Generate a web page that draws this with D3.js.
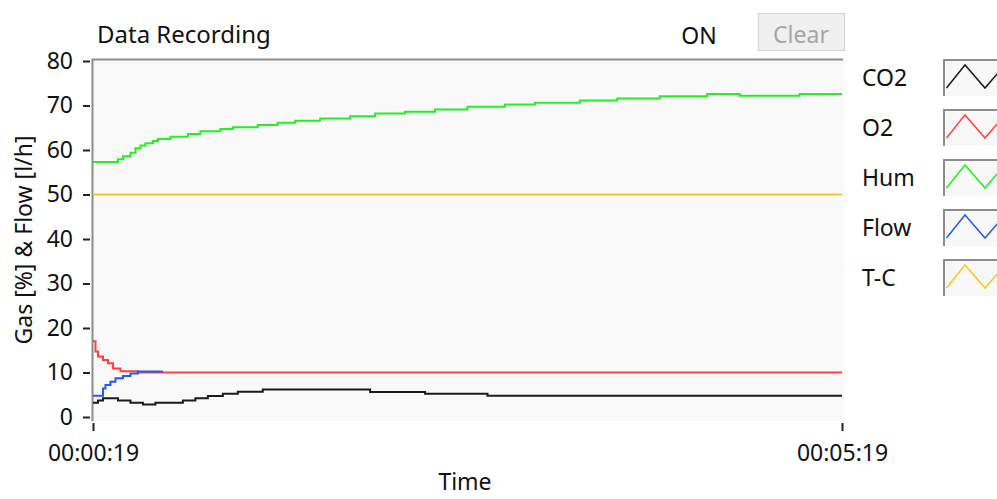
<!DOCTYPE html>
<html lang="en">
<head>
    <meta charset="UTF-8">
    <title>Data Recording</title>
    <script src="https://d3js.org/d3.v7.min.js"></script>
    <style>
        body { margin: 0; background: #fff; }
        text { font-family: "Noto Sans", "Open Sans", sans-serif; fill: #111; }
    </style>
</head>
<body>
    <svg id="chart" width="997" height="499"></svg>
    <script>
        // series (time in seconds, values in % or l/h)
        const seriesNames = ["CO2", "O2", "Hum", "Flow", "T-C"];
        const seriesColors = ["#1a1a1a", "#ff4040", "#22f022", "#2a5ae8", "#ffc61a"];

        const co2Time = [19, 21, 23, 29, 34, 39, 44, 55, 60, 65, 71, 77, 87, 130, 152, 177, 319];
        const co2Vals = [3.2, 3.7, 4.2, 3.7, 3.2, 2.8, 3.2, 3.7, 4.2, 4.7, 5.2, 5.7, 6.2, 5.6, 5.2, 4.8, 4.8];

        const o2Time = [19, 20, 21, 23, 25, 27, 30, 37, 319];
        const o2Vals = [17.0, 14.7, 13.6, 12.8, 12.1, 10.9, 10.3, 10.0, 10.0];

        const humTime = [19, 29, 31, 34, 36, 38, 40, 43, 45, 50, 57, 62, 70, 75, 85, 93, 100, 110, 122, 132,
                         144, 156, 169, 184, 196, 214, 229, 246, 265, 278, 302, 319];
        const humVals = [57.3, 57.9, 58.6, 59.4, 60.4, 61.0, 61.5, 62.0, 62.5, 63.0, 63.6, 64.2, 64.7, 65.1, 65.6, 66.1,
                         66.6, 67.1, 67.6, 68.2, 68.6, 69.1, 69.7, 70.2, 70.6, 71.1, 71.6, 72.1, 72.6, 72.2, 72.6, 72.6];

        const flowTime = [19, 23, 24, 26, 28, 31, 34, 37, 47];
        const flowVals = [4.8, 6.4, 7.2, 7.9, 8.7, 9.2, 9.8, 10.2, 10.2];

        const tcTime = [19, 319];
        const tcVals = [50, 50];

        const yTicks = [0, 10, 20, 30, 40, 50, 60, 70, 80];
        const xTicks = [19, 319];

        const seriesTimes = [co2Time, o2Time, humTime, flowTime, tcTime];
        const seriesVals = [co2Vals, o2Vals, humVals, flowVals, tcVals];

        const svg = d3.select("#chart");
        const fontSize = 23;

        const x = d3.scaleLinear().domain([19, 319]).range([93, 842]);
        const y = d3.scaleLinear().domain([0, 80]).range([417, 61]);

        // plot area
        const plot = {left: 92, top: 59, right: 845, bottom: 421};
        svg.append("rect")
            .attr("x", plot.left).attr("y", plot.top)
            .attr("width", plot.right - plot.left).attr("height", plot.bottom - plot.top)
            .attr("fill", "#f9f9f9");
        svg.append("defs").append("clipPath").attr("id", "clip")
            .append("rect")
            .attr("x", plot.left).attr("y", plot.top)
            .attr("width", plot.right - plot.left).attr("height", plot.bottom - plot.top);

        // frame (inset look)
        svg.append("path")
            .attr("d", `M${plot.left + 0.5},${plot.bottom}V${plot.top + 0.5}H${plot.right - 2}`)
            .attr("fill", "none").attr("stroke", "#8c8c8c").attr("stroke-width", 2);

        // y axis
        const yAxis = svg.append("g")
            .attr("transform", "translate(90,0)")
            .call(d3.axisLeft(y).tickValues(yTicks).tickSize(7).tickPadding(10));
        yAxis.select(".domain").remove();
        yAxis.selectAll(".tick line").attr("stroke", "#222").attr("stroke-width", 2);
        yAxis.selectAll(".tick text")
            .style("font-family", "'Noto Sans', sans-serif")
            .attr("font-size", fontSize).attr("fill", "#111");

        // x axis
        const fmt = s => [Math.floor(s / 3600), Math.floor(s / 60) % 60, s % 60]
            .map(v => String(v).padStart(2, "0")).join(":");
        const xAxis = svg.append("g")
            .attr("transform", "translate(0,423)")
            .call(d3.axisBottom(x).tickValues(xTicks).tickFormat(fmt).tickSize(8));
        xAxis.select(".domain").remove();
        xAxis.selectAll(".tick line").attr("stroke", "#222").attr("stroke-width", 2);
        xAxis.selectAll(".tick text")
            .style("font-family", "'Noto Sans', sans-serif")
            .attr("font-size", fontSize).attr("fill", "#111")
            .attr("y", 38).attr("dy", 0);

        // axis titles
        svg.append("text")
            .attr("transform", "translate(32,240) rotate(-90)")
            .attr("text-anchor", "middle")
            .attr("font-size", fontSize)
            .text("Gas [%] & Flow [l/h]");
        svg.append("text")
            .attr("x", 465).attr("y", 490)
            .attr("text-anchor", "middle")
            .attr("font-size", fontSize)
            .text("Time");

        // header
        svg.append("text").attr("x", 97).attr("y", 43).attr("font-size", 24).text("Data Recording");
        svg.append("text").attr("x", 699).attr("y", 44).attr("text-anchor", "middle").attr("font-size", fontSize).text("ON");
        svg.append("rect")
            .attr("x", 758.5).attr("y", 13.5).attr("width", 86).attr("height", 37)
            .attr("fill", "#f0f0f0").attr("stroke", "#d2d2d2");
        svg.append("text").attr("x", 801).attr("y", 43).attr("text-anchor", "middle")
            .attr("font-size", fontSize).style("fill", "#a6a6a6").text("Clear");

        // lines
        const line = d3.line()
            .x(d => x(d[0]))
            .y(d => y(d[1]))
            .curve(d3.curveStepAfter);
        const lines = svg.append("g").attr("clip-path", "url(#clip)");
        // draw order: yellow, green, black, red, blue
        [4, 2, 0, 1, 3].forEach(i => {
            const pts = d3.zip(seriesTimes[i], seriesVals[i]);
            lines.append("path")
                .datum(pts)
                .attr("d", line)
                .attr("fill", "none")
                .attr("stroke", seriesColors[i])
                .attr("stroke-width", 2);
        });

        // legend
        const legend = svg.append("g");
        seriesNames.forEach((name, i) => {
            const top = 59 + i * 50;
            legend.append("text")
                .attr("x", 862).attr("y", top + 27)
                .attr("font-size", fontSize)
                .text(name);
            legend.append("rect")
                .attr("x", 943).attr("y", top)
                .attr("width", 60).attr("height", 37)
                .attr("fill", "#f8f8f8");
            legend.append("path")
                .attr("d", `M944,${top + 37}V${top + 1}H1000`)
                .attr("fill", "none").attr("stroke", "#8c8c8c").attr("stroke-width", 2);
            legend.append("path")
                .attr("d", `M946.5,${top + 29}L965,${top + 6}L985,${top + 29}L1005,${top + 6}`)
                .attr("fill", "none").attr("stroke", seriesColors[i]).attr("stroke-width", 1.5);
        });
    </script>
</body>
</html>
